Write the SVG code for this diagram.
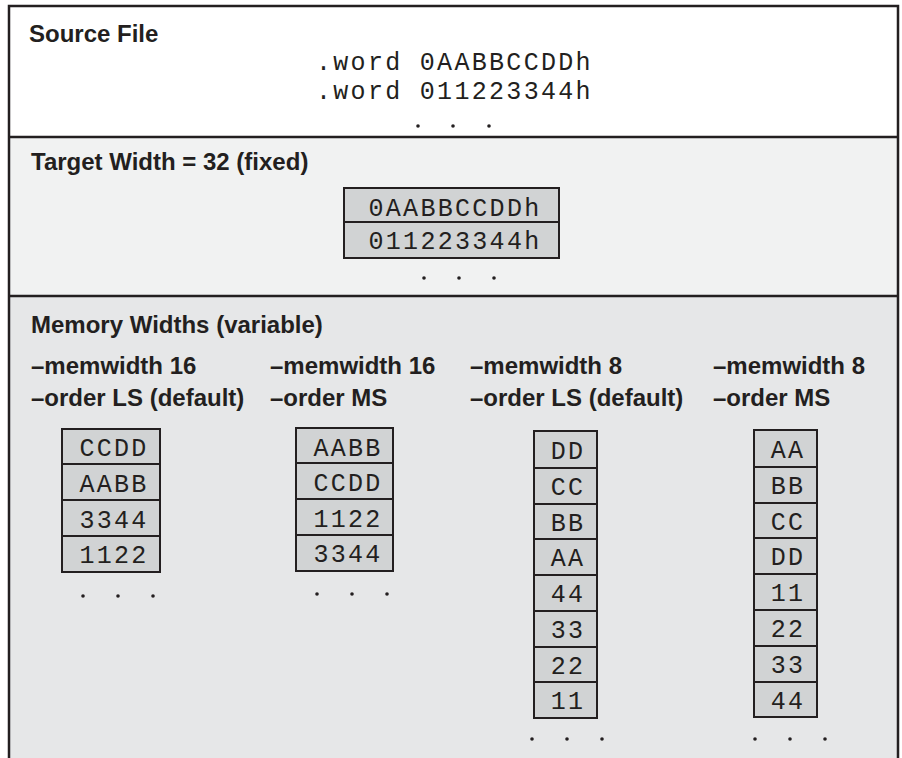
<svg xmlns="http://www.w3.org/2000/svg" width="902" height="758" viewBox="0 0 902 758">
<style>
.h{font-family:"Liberation Sans",Arial,Helvetica,sans-serif;font-weight:bold;font-size:24px;fill:#231f20}
.m{font-family:"Liberation Mono","Courier New",monospace;font-size:25px;letter-spacing:2.3px;fill:#231f20}
.c{text-anchor:middle}
.cell{fill:#d1d3d4;stroke:#231f20;stroke-width:2}
.dot{fill:#231f20}
.div{stroke:#231f20;stroke-width:2.5;fill:none}
</style>
<rect x="0" y="0" width="902" height="758" fill="#ffffff"/>
<g id="source-section">
<rect x="9" y="6" width="889" height="131" fill="#ffffff"/>
<text class="h" x="29" y="42">Source File</text>
<text class="m" x="316" y="70">.word 0AABBCCDDh</text>
<text class="m" x="316" y="99">.word 011223344h</text>
<g class="dot"><circle cx="418" cy="126" r="1.8"/><circle cx="453" cy="126" r="1.8"/><circle cx="489" cy="126" r="1.8"/></g>
</g>
<g id="target-section">
<rect x="9" y="137" width="889" height="159" fill="#f1f2f2"/>
<text class="h" x="31" y="170">Target Width = 32 (fixed)</text>
<g id="target-cells">
<rect class="cell" x="344" y="188" width="215" height="34"/>
<rect class="cell" x="344" y="222" width="215" height="36"/>
<text class="m c" x="455" y="216">0AABBCCDDh</text>
<text class="m c" x="455" y="249">011223344h</text>
</g>
<g class="dot"><circle cx="424" cy="278" r="1.8"/><circle cx="459" cy="278" r="1.8"/><circle cx="494" cy="278" r="1.8"/></g>
</g>
<g id="memory-section">
<rect x="9" y="296" width="889" height="470" fill="#e6e7e8"/>
<text class="h" x="31" y="333">Memory Widths (variable)</text>
</g>
<g id="col-16-ls">
<text class="h" x="31" y="374">–memwidth 16</text>
<text class="h" x="31" y="406">–order LS (default)</text>
<rect class="cell" x="62" y="429" width="98" height="35"/>
<rect class="cell" x="62" y="464" width="98" height="36"/>
<rect class="cell" x="62" y="500" width="98" height="36"/>
<rect class="cell" x="62" y="536" width="98" height="36"/>
<text class="m c" x="114" y="456">CCDD</text>
<text class="m c" x="114" y="492">AABB</text>
<text class="m c" x="114" y="528">3344</text>
<text class="m c" x="114" y="563">1122</text>
<g class="dot"><circle cx="83" cy="596" r="1.8"/><circle cx="118" cy="596" r="1.8"/><circle cx="153" cy="596" r="1.8"/></g>
</g>
<g id="col-16-ms">
<text class="h" x="270" y="374">–memwidth 16</text>
<text class="h" x="270" y="406">–order MS</text>
<rect class="cell" x="296" y="428" width="97" height="35"/>
<rect class="cell" x="296" y="463" width="97" height="36"/>
<rect class="cell" x="296" y="499" width="97" height="36"/>
<rect class="cell" x="296" y="535" width="97" height="36"/>
<text class="m c" x="348" y="456">AABB</text>
<text class="m c" x="348" y="491">CCDD</text>
<text class="m c" x="348" y="527">1122</text>
<text class="m c" x="348" y="562">3344</text>
<g class="dot"><circle cx="317" cy="594" r="1.8"/><circle cx="352" cy="594" r="1.8"/><circle cx="387" cy="594" r="1.8"/></g>
</g>
<g id="col-8-ls">
<text class="h" x="470" y="374">–memwidth 8</text>
<text class="h" x="470" y="406">–order LS (default)</text>
<rect class="cell" x="534" y="431" width="63" height="37"/>
<rect class="cell" x="534" y="468" width="63" height="36"/>
<rect class="cell" x="534" y="504" width="63" height="35"/>
<rect class="cell" x="534" y="539" width="63" height="36"/>
<rect class="cell" x="534" y="575" width="63" height="36"/>
<rect class="cell" x="534" y="611" width="63" height="36"/>
<rect class="cell" x="534" y="647" width="63" height="35"/>
<rect class="cell" x="534" y="682" width="63" height="36"/>
<text class="m c" x="568" y="459">DD</text>
<text class="m c" x="568" y="495">CC</text>
<text class="m c" x="568" y="531">BB</text>
<text class="m c" x="568" y="566">AA</text>
<text class="m c" x="568" y="602">44</text>
<text class="m c" x="568" y="638">33</text>
<text class="m c" x="568" y="674">22</text>
<text class="m c" x="568" y="709">11</text>
<g class="dot"><circle cx="532" cy="739" r="1.8"/><circle cx="567" cy="739" r="1.8"/><circle cx="602" cy="739" r="1.8"/></g>
</g>
<g id="col-8-ms">
<text class="h" x="713" y="374">–memwidth 8</text>
<text class="h" x="713" y="406">–order MS</text>
<rect class="cell" x="754" y="430" width="63" height="37"/>
<rect class="cell" x="754" y="467" width="63" height="36"/>
<rect class="cell" x="754" y="503" width="63" height="35"/>
<rect class="cell" x="754" y="538" width="63" height="36"/>
<rect class="cell" x="754" y="574" width="63" height="36"/>
<rect class="cell" x="754" y="610" width="63" height="36"/>
<rect class="cell" x="754" y="646" width="63" height="36"/>
<rect class="cell" x="754" y="682" width="63" height="35"/>
<text class="m c" x="788" y="458">AA</text>
<text class="m c" x="788" y="494">BB</text>
<text class="m c" x="788" y="530">CC</text>
<text class="m c" x="788" y="565">DD</text>
<text class="m c" x="788" y="601">11</text>
<text class="m c" x="788" y="637">22</text>
<text class="m c" x="788" y="673">33</text>
<text class="m c" x="788" y="709">44</text>
<g class="dot"><circle cx="755" cy="739" r="1.8"/><circle cx="790" cy="739" r="1.8"/><circle cx="825" cy="739" r="1.8"/></g>
</g>
<g id="frame">
<path class="div" d="M9 770 V6 H898 V770"/>
<line class="div" x1="9" y1="137" x2="898" y2="137"/>
<line class="div" x1="9" y1="296" x2="898" y2="296"/>
</g>
<g id="connectors"/>
</svg>
